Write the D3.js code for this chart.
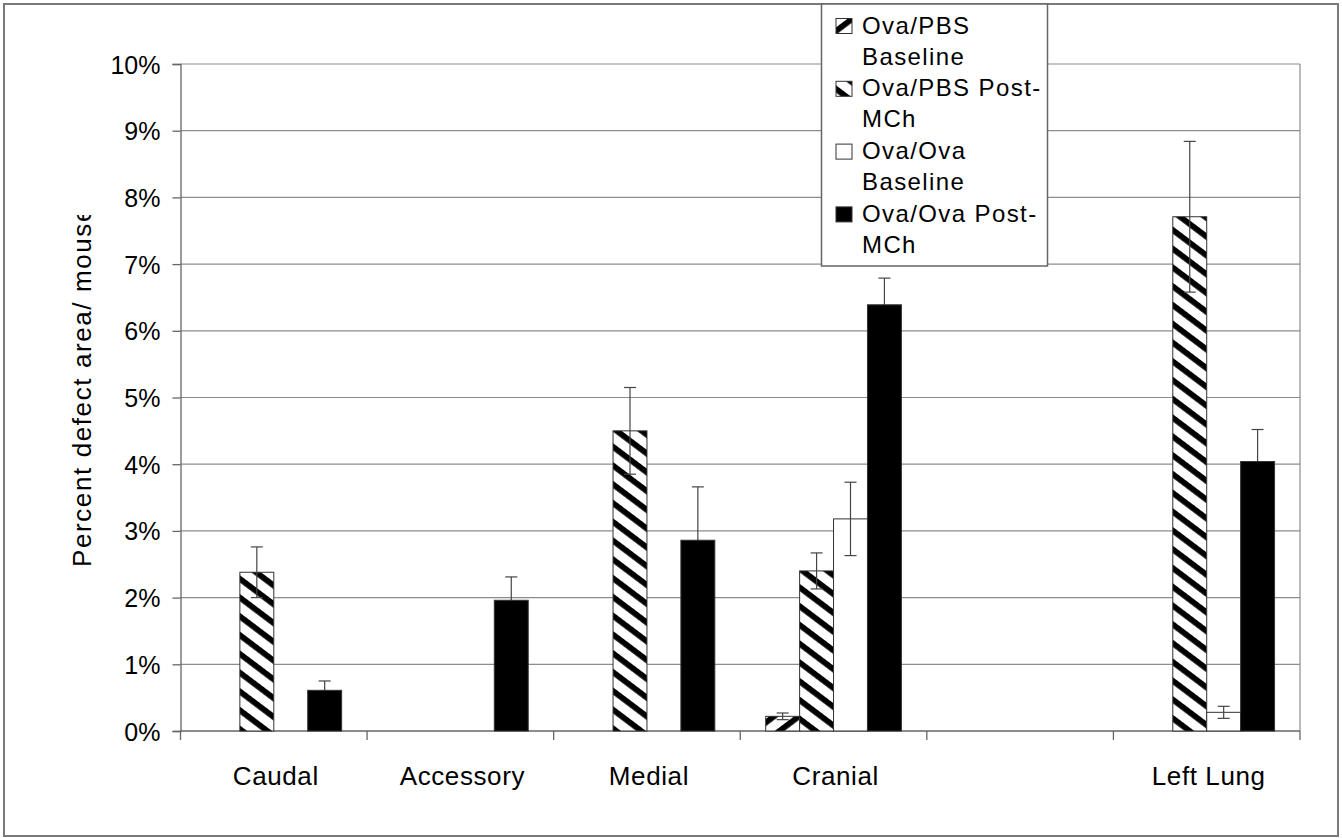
<!DOCTYPE html>
<html><head><meta charset="utf-8">
<script src="https://cdn.jsdelivr.net/npm/d3@7"></script>
<style>
html,body{margin:0;padding:0;background:#fff;}
svg{display:block;font-family:"Liberation Sans",Arial,sans-serif;}
</style></head>
<body>
<svg id="chart" width="1342" height="838"></svg>
<script>
// ---- data ----
const categories = ["Caudal", "Accessory", "Medial", "Cranial", "", "Left Lung"];
const seriesNames = ["Ova/PBS Baseline", "Ova/PBS Post-MCh", "Ova/Ova Baseline", "Ova/Ova Post-MCh"];
const legendLines = [["Ova/PBS", "Baseline"], ["Ova/PBS Post-", "MCh"], ["Ova/Ova", "Baseline"], ["Ova/Ova Post-", "MCh"]];
const pbsBaseline   = [null, null, null, 0.22, null, null];
const pbsPostMCh    = [2.38, null, 4.50, 2.40, null, 7.71];
const ovaBaseline   = [null, null, null, 3.18, null, 0.28];
const ovaPostMCh    = [0.61, 1.96, 2.86, 6.39, null, 4.04];
const pbsBaselineErr = [null, null, null, 0.05, null, null];
const pbsPostMChErr  = [0.38, null, 0.65, 0.27, null, 1.13];
const ovaBaselineErr = [null, null, null, 0.55, null, 0.09];
const ovaPostMChErr  = [0.14, 0.35, 0.80, 0.40, null, 0.48];
const yTicks = [0, 1, 2, 3, 4, 5, 6, 7, 8, 9, 10];
const yTitle = "Percent defect area/ mouse";

const values = [pbsBaseline, pbsPostMCh, ovaBaseline, ovaPostMCh];
const errors = [pbsBaselineErr, pbsPostMChErr, ovaBaselineErr, ovaPostMChErr];
const fills = ["url(#fwd)", "url(#back)", "#ffffff", "#000000"];

// ---- layout ----
const svg = d3.select("#chart");
const L = 180.5, R = 1300, T = 64, B = 731;

const defs = svg.append("defs");
function stripe(id, angle) {
  const p = defs.append("pattern").attr("id", id)
    .attr("patternUnits", "userSpaceOnUse")
    .attr("width", 15).attr("height", 15)
    .attr("patternTransform", `rotate(${angle})`);
  p.append("rect").attr("width", 15).attr("height", 15).attr("fill", "#fff");
  p.append("rect").attr("y", 0).attr("width", 15).attr("height", 5.8).attr("fill", "#000");
}
stripe("back", 37);
stripe("fwd", -37);
defs.append("clipPath").attr("id", "titleclip")
  .append("rect").attr("x", 0).attr("y", 215).attr("width", 140).attr("height", 400);

// outer frame
svg.append("rect").attr("x", 4).attr("y", 4).attr("width", 1334).attr("height", 832)
  .attr("fill", "#fff").attr("stroke", "#7a7a7a").attr("stroke-width", 2);

const x0 = d3.scaleBand().domain(d3.range(categories.length)).range([L, R]).paddingInner(0).paddingOuter(0);
const x1 = d3.scaleBand().domain(d3.range(seriesNames.length)).range([0, x0.bandwidth()]).paddingInner(0).paddingOuter(0.75);
const y = d3.scaleLinear().domain([0, 10]).range([B, T]);

// gridlines
svg.append("g").selectAll("line").data(yTicks.filter(d => d > 0)).join("line")
  .attr("x1", L).attr("x2", R).attr("y1", d => y(d)).attr("y2", d => y(d))
  .attr("stroke", "#8c8c8c").attr("stroke-width", 1.2);
// right border
svg.append("line").attr("x1", R).attr("x2", R).attr("y1", T).attr("y2", B)
  .attr("stroke", "#8c8c8c").attr("stroke-width", 1.2);

// y axis
const yAxis = d3.axisLeft(y).tickValues(yTicks).tickFormat(d => d + "%").tickSize(8).tickPadding(12);
const gy = svg.append("g").attr("transform", `translate(${L},0)`).call(yAxis);
gy.select(".domain").attr("stroke", "#666").attr("stroke-width", 1.3);
gy.selectAll(".tick line").attr("stroke", "#666").attr("stroke-width", 1.3);
gy.selectAll(".tick text").attr("font-size", 25).attr("fill", "#000")
  .attr("font-family", "Liberation Sans, Arial, sans-serif").attr("dy", "0.36em");

// x axis
svg.append("line").attr("x1", L).attr("x2", R).attr("y1", B).attr("y2", B).attr("stroke", "#666").attr("stroke-width", 1.3);
const bounds = d3.range(categories.length + 1).map(i => i < categories.length ? x0(i) : R);
svg.append("g").selectAll("line").data(bounds).join("line")
  .attr("x1", d => d).attr("x2", d => d).attr("y1", B).attr("y2", B + 9)
  .attr("stroke", "#666").attr("stroke-width", 1.3);
svg.append("g").selectAll("text").data(categories).join("text")
  .attr("x", (d, i) => x0(i) + x0.bandwidth() / 2 + 2).attr("y", 785)
  .attr("text-anchor", "middle").attr("font-size", 26).attr("letter-spacing", 0.6).text(d => d);

// y title (clipped like the original)
svg.append("g").attr("clip-path", "url(#titleclip)")
  .append("text").attr("transform", "translate(91,567) rotate(-90)")
  .attr("font-size", 26).attr("letter-spacing", 1.6).text(yTitle);

// bars
function drawBars(si) {
  const data = values[si].map((v, ci) => ({ v, ci })).filter(d => d.v != null);
  svg.append("g").selectAll("rect").data(data).join("rect")
    .attr("x", d => x0(d.ci) + x1(si)).attr("width", x1.bandwidth())
    .attr("y", d => y(d.v)).attr("height", d => y(0) - y(d.v))
    .attr("fill", fills[si]).attr("stroke", "#333").attr("stroke-width", 1);
}
function drawErr(si) {
  const data = values[si].map((v, ci) => ({ v, e: errors[si][ci], ci })).filter(d => d.v != null && d.e != null);
  const g = svg.append("g").attr("stroke", "#444").attr("stroke-width", 1.2);
  const cx = d => x0(d.ci) + x1(si) + x1.bandwidth() / 2;
  g.selectAll("line.v").data(data).join("line").attr("class", "v")
    .attr("x1", cx).attr("x2", cx).attr("y1", d => y(d.v - d.e)).attr("y2", d => y(d.v + d.e));
  g.selectAll("line.t").data(data).join("line").attr("class", "t")
    .attr("x1", d => cx(d) - 6).attr("x2", d => cx(d) + 6).attr("y1", d => y(d.v + d.e)).attr("y2", d => y(d.v + d.e));
  g.selectAll("line.b").data(data).join("line").attr("class", "b")
    .attr("x1", d => cx(d) - 6).attr("x2", d => cx(d) + 6).attr("y1", d => y(d.v - d.e)).attr("y2", d => y(d.v - d.e));
}
drawBars(0); drawBars(1); drawBars(2);
drawErr(0); drawErr(1); drawErr(2); drawErr(3);
drawBars(3);

// legend
const lg = svg.append("g");
lg.append("rect").attr("x", 821.5).attr("y", 4).attr("width", 226).attr("height", 262)
  .attr("fill", "#fff").attr("stroke", "#666").attr("stroke-width", 1.5);
legendLines.forEach((lines, i) => {
  const by = 33.5 + i * 62.8;
  lg.append("rect").attr("x", 836).attr("y", by - 15).attr("width", 16).attr("height", 15)
    .attr("fill", fills[i]).attr("stroke", "#333").attr("stroke-width", 1);
  lines.forEach((t, j) => {
    lg.append("text").attr("x", 862).attr("y", by + j * 31)
      .attr("font-size", 24).attr("letter-spacing", 1.4).text(t);
  });
});
</script>
</body></html>
